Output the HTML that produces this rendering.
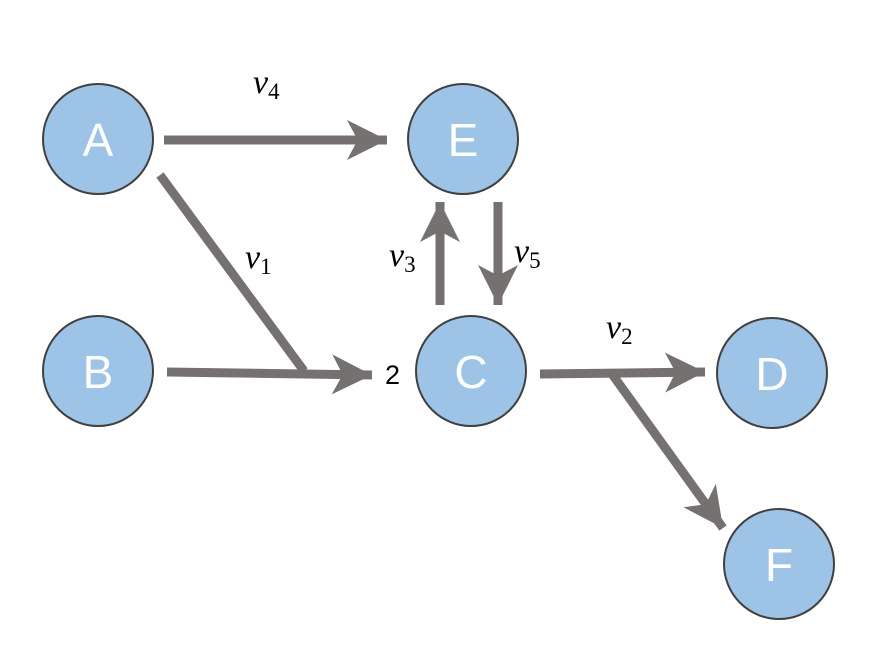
<!DOCTYPE html>
<html><head><meta charset="utf-8"><style>
html,body{margin:0;padding:0;background:#fff;}
svg{display:block}
.n{font-family:"Liberation Sans",sans-serif;font-size:46px;fill:#fff;text-anchor:middle}
.v{font-family:"Liberation Serif",serif;font-style:italic;font-size:34px;fill:#000}
.s{font-family:"Liberation Serif",serif;font-style:normal;font-size:23px}
</style></head><body>
<svg width="878" height="669" viewBox="0 0 878 669" xmlns="http://www.w3.org/2000/svg">
<defs>
<marker id="h" markerUnits="userSpaceOnUse" markerWidth="40" markerHeight="40" refX="30" refY="15" orient="auto" viewBox="0 0 30 30">
<path d="M0,0 L30,15 L0,30 L8,15 Z" fill="#767171"/>
</marker>
</defs>
<g fill="#9dc3e6" stroke="#404040" stroke-width="2">
<circle cx="98" cy="139" r="55"/>
<circle cx="463" cy="139" r="55"/>
<circle cx="98" cy="371" r="55"/>
<circle cx="471" cy="371" r="55"/>
<circle cx="772" cy="373" r="55"/>
<circle cx="779" cy="564" r="55"/>
</g>
<g class="n">
<text x="98" y="156">A</text>
<text x="463" y="156">E</text>
<text x="98" y="388">B</text>
<text x="471" y="388">C</text>
<text x="772" y="390">D</text>
<text x="779" y="581">F</text>
</g>
<g stroke="#767171" stroke-width="9" fill="none">
<line x1="164" y1="140" x2="387" y2="140" marker-end="url(#h)"/>
<line x1="160" y1="175" x2="304" y2="371"/>
<line x1="167" y1="372" x2="372" y2="375" marker-end="url(#h)"/>
<line x1="440" y1="305" x2="440" y2="202" marker-end="url(#h)"/>
<line x1="498" y1="202" x2="498" y2="305" marker-end="url(#h)"/>
<line x1="540" y1="374" x2="705" y2="372" marker-end="url(#h)"/>
<line x1="612" y1="374" x2="723" y2="528" marker-end="url(#h)"/>
</g>
<text class="v" x="253" y="93">v<tspan class="s" dy="6">4</tspan></text>
<text class="v" x="245" y="268">v<tspan class="s" dy="6">1</tspan></text>
<text class="v" x="389" y="266">v<tspan class="s" dy="6">3</tspan></text>
<text class="v" x="514" y="262">v<tspan class="s" dy="6">5</tspan></text>
<text class="v" x="606" y="338">v<tspan class="s" dy="6">2</tspan></text>
<text x="385" y="384" font-family="Liberation Sans,sans-serif" font-size="27" fill="#000">2</text>
</svg>
</body></html>
